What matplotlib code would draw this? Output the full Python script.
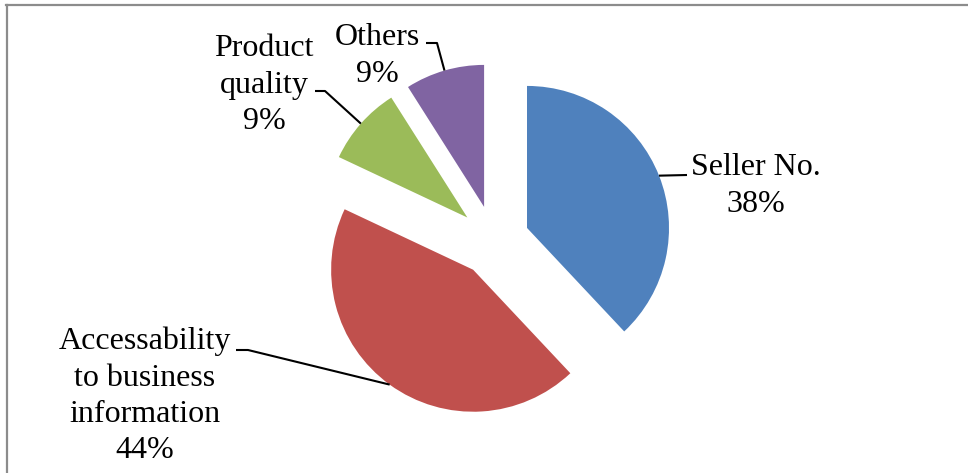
import matplotlib.pyplot as plt
from matplotlib.lines import Line2D
import numpy as np

# Share of respondents by factor
labels = ["Seller No.", "Accessability\nto business\ninformation", "Product\nquality", "Others"]
shares = [38, 44, 9, 9]
colors = ["#4F81BD", "#C0504D", "#9BBB59", "#8064A2"]

W, H = 968, 473
R = 142          # pie radius in pixels
cx, cy = 494, 241  # pie centre in pixels (from top-left)


def px(x, y):
    # pixel position (top-left origin) -> data coords of the pie axes
    return (x - cx) / R, (cy - y) / R


# label block centres and leader-line elbows, in pixels
label_pos = [(756, 186), (145, 396), (264, 85), (377, 56)]
elbows = [
    [(687, 175)],
    [(236, 350), (248, 350)],
    [(315, 91), (325, 91)],
    [(426, 43), (437, 43)],
]

plt.rcParams['font.family'] = ['Liberation Serif', 'DejaVu Serif']

fig = plt.figure(figsize=(W / 100, H / 100), dpi=100)
ax = fig.add_axes([0, 0, 1, 1])

wedges, _ = ax.pie(
    shares,
    colors=colors,
    startangle=90,
    counterclock=False,
    explode=[0.25] * len(shares),
    radius=1,
    wedgeprops=dict(linewidth=0),
)
ax.set_xlim(-cx / R, (W - cx) / R)
ax.set_ylim(-(H - cy) / R, cy / R)
ax.set_aspect('auto')
ax.axis('off')

for w, lab, share, pos, elb in zip(wedges, labels, shares, label_pos, elbows):
    theta = np.deg2rad((w.theta1 + w.theta2) / 2)
    rim = (w.center[0] + w.r * np.cos(theta), w.center[1] + w.r * np.sin(theta))
    pts = [px(*p) for p in elb] + [rim]
    xs, ys = zip(*pts)
    ax.plot(xs, ys, color='black', lw=1.5, solid_capstyle='butt')
    tx, ty = px(*pos)
    ax.text(tx, ty, f"{lab}\n{share}%", ha='center', va='center',
            fontsize=23, linespacing=1.33, color='black')

# chart frame (top and left edges visible)
fig.add_artist(Line2D([6 / W, 1], [1 - 5.5 / H] * 2, transform=fig.transFigure,
                      color='#8c8c8c', lw=1.6))
fig.add_artist(Line2D([7 / W] * 2, [0, 1 - 5.5 / H], transform=fig.transFigure,
                      color='#8c8c8c', lw=1.6))

fig.savefig("out.png", dpi=100)
